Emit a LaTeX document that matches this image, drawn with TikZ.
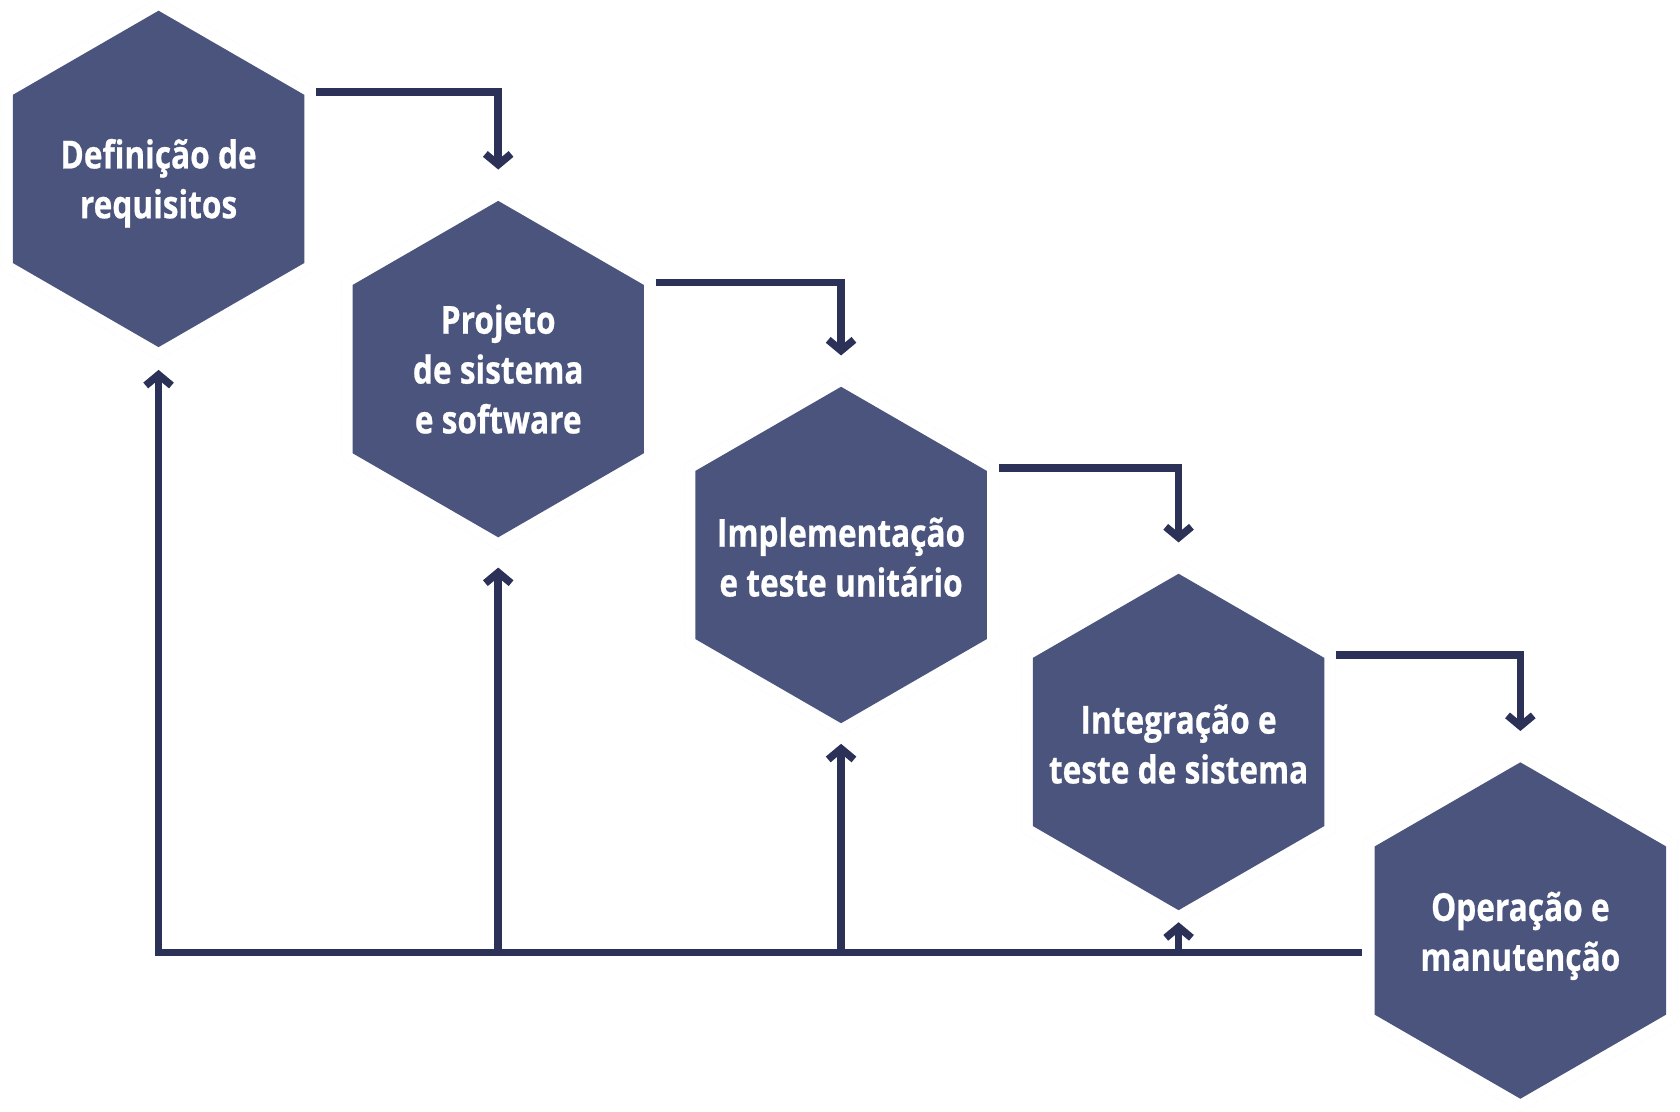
\documentclass[tikz,border=0pt]{standalone}
\usepackage{fontspec}
\setmainfont{Open Sans}[FakeStretch=0.82, BoldFeatures={FakeBold=0.6}]
\usetikzlibrary{shapes.geometric,arrows.meta}
\definecolor{hexazul}{HTML}{4A547D}
\definecolor{linha}{HTML}{2C3157}

\begin{document}
\begin{tikzpicture}[x=1pt, y=1pt,
    fase/.style={regular polygon, regular polygon sides=6, shape border rotate=30,
        minimum size=314pt, inner sep=0pt, fill=hexazul},
    halo/.style={regular polygon, regular polygon sides=6, shape border rotate=30,
        minimum size=338pt, inner sep=0pt, draw=gray!25, densely dotted, very thin},
    rotulo/.style={text=white, font=\bfseries\fontsize{36}{46.5}\selectfont, align=center},
    seta/.style={draw=linha, line width=7pt, -{Straight Barb[length=10pt, width=24pt]}}]
    \useasboundingbox (0,0) rectangle (1568,1037);

    % Fases (hexágonos)
    \node[fase] (h1) at (148,870) {};
    \node[fase] (h2) at (465,692.5) {};
    \node[fase] (h3) at (785,519) {};
    \node[fase] (h4) at (1100,344.5) {};
    \node[fase] (h5) at (1419,168.5) {};
    \foreach \h in {h1,h2,h3,h4,h5}
        \node[halo] at (\h) {};

    % Textos
    \node[rotulo] at ([yshift=-4pt]h1) {Definição de\\requisitos};
    \node[rotulo] at (h2) {Projeto\\de sistema\\e software};
    \node[rotulo] at ([yshift=-2pt]h3) {Implementação\\e teste unitário};
    \node[rotulo] at ([yshift=-2pt]h4) {Integração e\\teste de sistema};
    \node[rotulo] at ([yshift=-5pt]h5) {Operação e\\manutenção};

    % Setas para a fase seguinte
    \draw[seta] ([xshift=11pt, yshift=81pt]h1.east) -| ([yshift=29pt]h2.north);
    \draw[seta] ([xshift=11pt, yshift=81pt]h2.east) -| ([yshift=29pt]h3.north);
    \draw[seta] ([xshift=11pt, yshift=81pt]h3.east) -| ([yshift=29pt]h4.north);
    \draw[seta] ([xshift=11pt, yshift=81pt]h4.east) -| ([yshift=29pt]h5.north);

    % Retorno para as fases anteriores
    \coordinate (base) at ([xshift=-12pt, yshift=-20.5pt]h5.west);
    \draw[seta] (base) -- (h1 |- base) -- ([yshift=-21pt]h1.south);
    \draw[seta] (h2 |- base) -- ([yshift=-28pt]h2.south);
    \draw[seta] (h3 |- base) -- ([yshift=-19pt]h3.south);
    \draw[seta] (h4 |- base) -- ([yshift=-11pt]h4.south);
\end{tikzpicture}
\end{document}
